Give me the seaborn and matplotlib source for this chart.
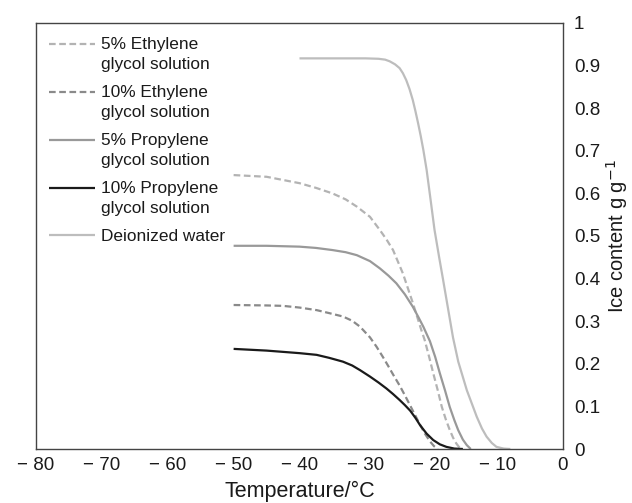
import matplotlib
matplotlib.use("Agg")
import matplotlib.pyplot as plt
import seaborn as sns
import pandas as pd
import numpy as np
from matplotlib.ticker import FixedLocator, FuncFormatter
from matplotlib.legend_handler import HandlerLine2D

sns.set_theme(style="white")
plt.rcParams['font.family'] = ['Liberation Sans', 'DejaVu Sans']

# ---- data ----
eg5_t = [-50, -45, -40, -37.5, -35, -33, -31.3, -29.3, -27.8, -26.8, -25.8, -24.3, -22.8,
         -21.5, -21.0, -20.3, -19.7, -19.0, -18.4, -17.8, -17.2, -16.7, -16.2, -15.8, -15.3]
eg5_y = [0.643, 0.639, 0.624, 0.613, 0.600, 0.586, 0.569, 0.545, 0.514, 0.492, 0.467, 0.412, 0.343,
         0.279, 0.256, 0.215, 0.178, 0.137, 0.099, 0.070, 0.045, 0.027, 0.013, 0.005, 0.0]

eg10_t = [-50, -45, -42.5, -40, -37.4, -35.5, -33.4, -32, -30.8, -29.3, -28.3, -27.3, -26.5,
          -25.8, -24.8, -24.0, -23.2, -22.4, -21.7, -21.0, -20.2, -19.6, -19.0]
eg10_y = [0.338, 0.337, 0.336, 0.332, 0.326, 0.319, 0.311, 0.301, 0.287, 0.262, 0.240, 0.215, 0.194,
          0.175, 0.149, 0.126, 0.102, 0.078, 0.057, 0.037, 0.018, 0.007, 0.0]

pg5_t = [-50, -45, -40, -37.5, -35, -33, -31.3, -29.3, -27.8, -26.5, -25.3, -24, -22.8, -21.9,
         -21.2, -20.2, -19.4, -18.7, -17.9, -17.2, -16.5, -15.9, -15.2, -14.6, -14.0]
pg5_y = [0.477, 0.477, 0.475, 0.472, 0.467, 0.462, 0.455, 0.441, 0.424, 0.407, 0.389, 0.363, 0.334, 0.308,
         0.287, 0.253, 0.216, 0.178, 0.137, 0.099, 0.068, 0.044, 0.022, 0.009, 0.0]

pg10_t = [-50, -45, -42.5, -40, -37.4, -35.5, -33.4, -32, -30.8, -29.3, -28, -26.8, -25.8, -24.8,
          -24, -23.2, -22.4, -21.7, -20.7, -19.7, -18.7, -17.7, -16.5, -15.2]
pg10_y = [0.235, 0.231, 0.228, 0.225, 0.221, 0.214, 0.205, 0.196, 0.185, 0.170, 0.156, 0.142, 0.129, 0.115,
          0.103, 0.090, 0.073, 0.056, 0.036, 0.021, 0.011, 0.005, 0.001, 0.0]

dw_t = [-40, -35, -30, -28, -27, -26.3, -25.5, -24.8, -24.3, -23.8, -23.3, -22.8, -22.4, -22.0, -21.6,
        -21.2, -20.7, -20.1, -19.5, -18.8, -18.2, -17.4, -16.7, -15.9, -14.6, -13.8, -13.1, -12.3,
        -11.6, -10.8, -10.1, -9.0, -8.0]
dw_y = [0.917, 0.917, 0.917, 0.916, 0.914, 0.910, 0.903, 0.894, 0.882, 0.866, 0.845, 0.819, 0.793, 0.765, 0.735,
        0.702, 0.655, 0.585, 0.514, 0.450, 0.397, 0.325, 0.262, 0.205, 0.138, 0.105, 0.076, 0.048,
        0.029, 0.014, 0.005, 0.001, 0.0]

labels = ["5% Ethylene\nglycol solution", "10% Ethylene\nglycol solution",
          "5% Propylene\nglycol solution", "10% Propylene\nglycol solution",
          "Deionized water"]
x_ticks = [-80, -70, -60, -50, -40, -30, -20, -10, 0]
y_ticks = [0, 0.1, 0.2, 0.3, 0.4, 0.5, 0.6, 0.7, 0.8, 0.9, 1]

series = [(eg5_t, eg5_y), (eg10_t, eg10_y), (pg5_t, pg5_y), (pg10_t, pg10_y), (dw_t, dw_y)]
colors = ["#b3b3b3", "#8a8a8a", "#999999", "#1a1a1a", "#bdbdbd"]
dashed = [True, True, False, False, False]


class TopLineHandler(HandlerLine2D):
    """Place the legend line level with the first text line."""
    def __init__(self, dy, **kw):
        super().__init__(**kw)
        self.dy = dy

    def create_artists(self, legend, orig_handle, xdescent, ydescent, width,
                       height, fontsize, trans):
        arts = super().create_artists(legend, orig_handle, xdescent, ydescent,
                                      width, height, fontsize, trans)
        for a in arts:
            a.set_ydata(np.asarray(a.get_ydata(), dtype=float) + self.dy)
        return arts


fig = plt.figure(figsize=(6.32, 5.03), dpi=100)
ax = fig.add_axes([36/632, 1-449/503, (563-36)/632, (449-23)/503])

handles = []
for (t, y), lab, c, d in zip(series, labels, colors, dashed):
    df = pd.DataFrame({"t": t, "y": y})
    sns.lineplot(data=df, x="t", y="y", ax=ax, color=c, lw=1.6, sort=False,
                 label=lab, estimator=None)
    ln = ax.lines[-1]
    ln.set_solid_joinstyle("round")
    ln.set_dash_joinstyle("round")
    ln.set_solid_capstyle("butt")
    if d:
        ln.set_dashes((3, 1.6))
    handles.append(ln)

ax.set_xlim(-80, 0)
ax.set_ylim(0, 1)
ax.xaxis.set_major_locator(FixedLocator(x_ticks))
ax.yaxis.set_major_locator(FixedLocator(y_ticks))

def xfmt(v, pos):
    return "0" if v == 0 else "\u2212 %d" % abs(v)

def yfmt(v, pos):
    if v == 0:
        return "0"
    if abs(v - 1) < 1e-9:
        return "1"
    return "%.1f" % v

ax.xaxis.set_major_formatter(FuncFormatter(xfmt))
ax.yaxis.set_major_formatter(FuncFormatter(yfmt))
ax.yaxis.tick_right()
ax.yaxis.set_label_position("right")
ax.tick_params(axis="both", length=0, labelsize=13.5, colors="#1a1a1a")
ax.tick_params(axis="x", pad=6)
ax.tick_params(axis="y", pad=8)

for s in ax.spines.values():
    s.set_visible(True)
    s.set_color("#444444")
    s.set_linewidth(1.0)

ax.set_xlabel("Temperature/°C", fontsize=15.5, color="#1a1a1a", labelpad=5)
ax.set_ylabel("Ice content g g$^{\u22121}$", fontsize=14.5, color="#1a1a1a", labelpad=3)

hmap = {h: TopLineHandler(7.2) for h in handles[:4]}
leg = ax.legend(handles=handles, labels=labels, handler_map=hmap,
                loc="upper left", bbox_to_anchor=(0.0, 0.997), frameon=False,
                fontsize=12.4, handlelength=2.7, handletextpad=0.35,
                labelspacing=0.78, borderaxespad=0.35)
for tx in leg.get_texts():
    tx.set_color("#1a1a1a")
    tx.set_linespacing(1.38)

fig.savefig("out.png", dpi=100)
